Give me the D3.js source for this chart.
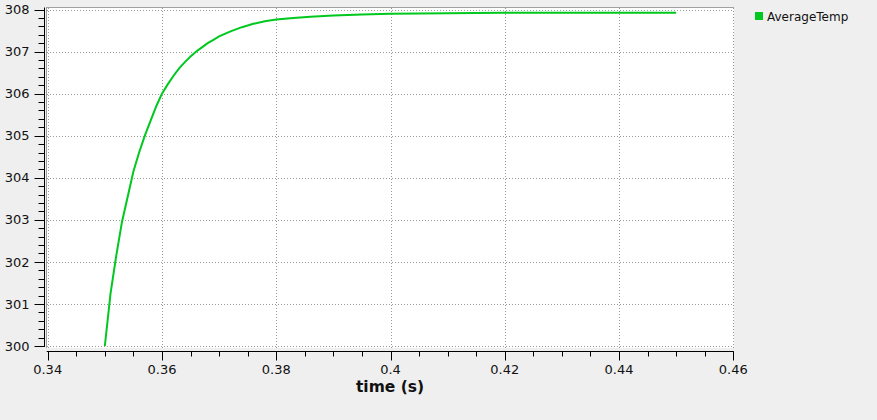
<!DOCTYPE html>
<html><head><meta charset="utf-8">
<script src="https://cdn.jsdelivr.net/npm/d3@7"></script>
<style>
html,body{margin:0;padding:0;background:#efefef;}
svg{display:block;font-family:"DejaVu Sans",sans-serif;}
</style></head>
<body>
<svg id="chart" width="877" height="420"></svg>
<script>
const seriesName = "AverageTemp";
const times = [0.350,0.351,0.352,0.353,0.354,0.355,0.356,0.357,0.358,0.359,0.360,0.361,0.362,0.363,0.364,0.365,0.366,0.367,0.368,0.369,0.370,0.372,0.374,0.376,0.378,0.380,0.383,0.386,0.390,0.395,0.400,0.410,0.420,0.430,0.440,0.450];
const temps = [300.00,301.25,302.15,302.95,303.55,304.15,304.60,305.00,305.35,305.70,306.00,306.22,306.42,306.60,306.75,306.88,307.00,307.10,307.20,307.28,307.36,307.48,307.58,307.66,307.72,307.76,307.80,307.83,307.86,307.88,307.90,307.91,307.92,307.92,307.92,307.92];
const xTicks = [0.34,0.36,0.38,0.40,0.42,0.44,0.46];
const yTicks = [300,301,302,303,304,305,306,307,308];
const xLabel = "time (s)";

const svg = d3.select("#chart");
const x = d3.scaleLinear().domain([0.34,0.46]).range([47.7,733.3]);
const y = d3.scaleLinear().domain([300,308]).range([346,9.5]);
const data = times.map((t,i)=>({t, v: temps[i]}));

// plot area
svg.append("rect").attr("x",46).attr("y",7).attr("width",688).attr("height",341).attr("fill","#fff");
svg.append("line").attr("x1",46).attr("x2",734).attr("y1",7.5).attr("y2",7.5).attr("stroke","#a0a0a0");
svg.append("line").attr("x1",46.5).attr("x2",46.5).attr("y1",7).attr("y2",348).attr("stroke","#a0a0a0");

// grid
const g = svg.append("g");
g.selectAll(".gx").data(xTicks).join("line")
  .attr("x1",d=>Math.round(x(d))+0.5).attr("x2",d=>Math.round(x(d))+0.5)
  .attr("y1",8).attr("y2",348).attr("stroke","#999").attr("stroke-dasharray","1,2");
g.selectAll(".gy").data(yTicks).join("line")
  .attr("y1",d=>Math.round(y(d))+0.5).attr("y2",d=>Math.round(y(d))+0.5)
  .attr("x1",47).attr("x2",734).attr("stroke","#999").attr("stroke-dasharray","1,2");

// line
const line = d3.line().x(d=>x(d.t)).y(d=>y(d.v));
svg.append("path").datum(data).attr("d",line).attr("fill","none")
  .attr("stroke","#00c81e").attr("stroke-width",2);

// x axis
const xMinor = d3.range(0,25).map(i=>0.34+i*0.005);
const xa = svg.append("g").attr("transform","translate(0,351.5)");
xa.append("line").attr("x1",x(0.34)-1).attr("x2",x(0.46)+0.5).attr("stroke","#000");
xa.selectAll(".mn").data(xMinor).join("line")
  .attr("x1",d=>Math.round(x(d))+0.5).attr("x2",d=>Math.round(x(d))+0.5)
  .attr("y1",0).attr("y2",d=>xTicks.some(t=>Math.abs(t-d)<1e-9)?9:5).attr("stroke","#000");
xa.selectAll("text").data(xTicks).join("text")
  .attr("x",d=>x(d)).attr("y",22).attr("text-anchor","middle")
  .attr("font-size",13).attr("fill","#111").text(d=>d3.format("")(+d.toFixed(2)));
svg.append("text").attr("x",390).attr("y",392).attr("text-anchor","middle")
  .attr("font-size",15.5).attr("font-weight","bold").attr("fill","#111").text(xLabel);

// y axis
const yMinor = d3.range(0,41).map(i=>300+i*0.2);
const ya = svg.append("g").attr("transform","translate(44.5,0)");
ya.append("line").attr("y1",y(308)-2).attr("y2",y(300)+1).attr("stroke","#000");
ya.selectAll(".mn").data(yMinor).join("line")
  .attr("y1",d=>Math.round(y(d))+0.5).attr("y2",d=>Math.round(y(d))+0.5)
  .attr("x1",d=>yTicks.some(t=>Math.abs(t-d)<1e-6)?-10:-6).attr("x2",0).attr("stroke","#000");
ya.selectAll("text").data(yTicks).join("text")
  .attr("x",-15).attr("y",d=>y(d)).attr("dy","0.36em").attr("text-anchor","end")
  .attr("font-size",13).attr("fill","#111").text(d=>d);

// legend
svg.append("rect").attr("x",755).attr("y",12).attr("width",8).attr("height",8).attr("fill","#00c81e");
svg.append("text").attr("x",767).attr("y",20.5).attr("font-size",12).attr("fill","#111").text(seriesName);
</script>
</body></html>
